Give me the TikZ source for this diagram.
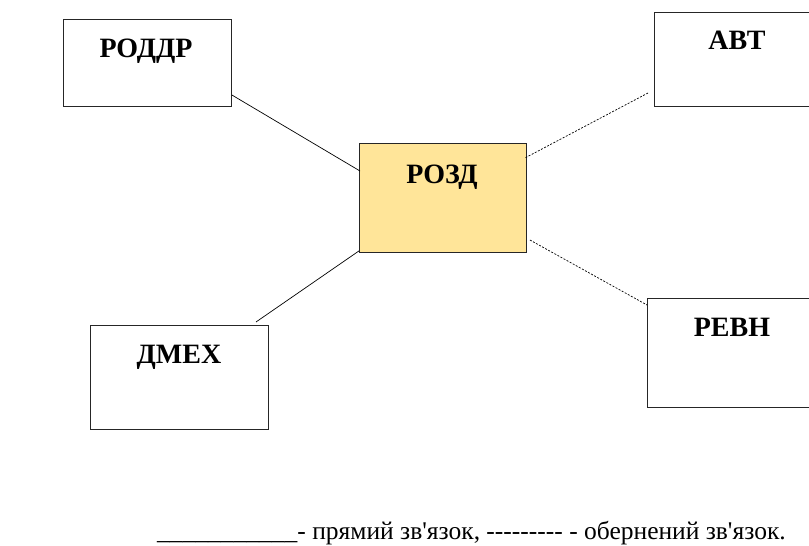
\documentclass[tikz,border=0pt]{standalone}
\usepackage{fontspec}
\setmainfont{Liberation Serif}[Ligatures=TeXOff]
\usetikzlibrary{calc}
\definecolor{boxyellow}{HTML}{FFE599}
\tikzset{
  box/.style={draw=black!85, line width=0.9pt, rectangle, inner sep=0pt, anchor=north west},
  lbl/.style={font=\bfseries\fontsize{28}{32}\selectfont, inner sep=0pt, anchor=base},
  direct/.style={draw=black, line width=0.7pt},
  reverse/.style={draw=black, line width=0.7pt, dash pattern=on 2pt off 1.5pt},
}
\begin{document}
\begin{tikzpicture}[x=1pt,y=-1pt]
\useasboundingbox (0,0) rectangle (809,546);
% boxes
\node[box, minimum width=168pt, minimum height=87pt] (roddr) at (63,19) {};
\node[box, minimum width=160pt, minimum height=94pt] (avt) at (654,12) {};
\node[box, fill=boxyellow, minimum width=167pt, minimum height=109pt] (rozd) at (359,143) {};
\node[box, minimum width=178pt, minimum height=104pt] (dmeh) at (90,325) {};
\node[box, minimum width=170pt, minimum height=109pt] (revn) at (647,298) {};
% labels
\node[lbl] (troddr) at (146,57) {РОДДР};
\node[lbl] (tavt) at (737,49) {АВТ};
\node[lbl] (trozd) at (442,183) {РОЗД};
\node[lbl] (tdmeh) at (179,363) {ДМЕХ};
\node[lbl] (trevn) at (732,336) {РЕВН};
% connection points
\coordinate (c1) at ($(roddr.north east)+(0,76)$);
\coordinate (c2) at ($(rozd.north west)+(1,28)$);
\coordinate (c3) at ($(avt.north west)+(-6,81)$);
\coordinate (c4) at ($(rozd.north east)+(-2,15)$);
\coordinate (c5) at ($(dmeh.north west)+(166,-3)$);
\coordinate (c6) at ($(rozd.south west)+(0,-2)$);
\coordinate (c7) at ($(rozd.north east)+(3,97)$);
\coordinate (c8) at ($(revn.north west)+(0,7)$);
% connectors
\draw[direct] (c1) -- (c2);
\draw[reverse] (c3) -- (c4);
\draw[direct] (c5) -- (c6);
\draw[reverse] (c7) -- (c8);
% legend
\node[font=\fontsize{25.5}{30}\selectfont, inner sep=0pt, anchor=base west] (legend) at (157,539) {\_\_\_\_\_\_\_\_\_\_\_- прямий зв'язок, --------- - обернений зв'язок.};
\end{tikzpicture}
\end{document}
